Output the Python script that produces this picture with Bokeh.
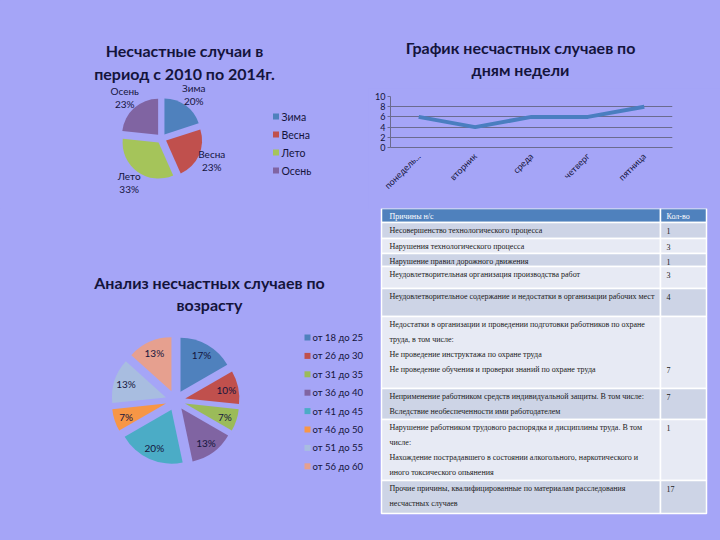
import math
from bokeh.plotting import figure
from bokeh.layouts import row, column
from bokeh.models import Range1d, FactorRange
from bokeh.core.properties import value
from bokeh.embed import file_html
from bokeh.resources import INLINE

# ---------------- data ----------------
season_labels = ["Зима", "Весна", "Лето", "Осень"]
season_counts = [6, 7, 10, 7]

day_labels = ["понедель...", "вторник", "среда", "четверг", "пятница"]
day_counts = [6, 4, 6, 6, 8]
day_ticks = [0, 2, 4, 6, 8, 10]

age_labels = ["от 18 до 25", "от 26 до 30", "от 31 до 35", "от 36 до 40",
              "от 41 до 45", "от 46 до 50", "от 51 до 55", "от 56 до 60"]
age_counts = [5, 3, 2, 4, 6, 2, 4, 4]

table_header = ["Причины н/с", "Кол-во"]
cause_texts = [
    ["Несовершенство технологического процесса"],
    ["Нарушения технологического процесса"],
    ["Нарушение правил дорожного движения"],
    ["Неудовлетворительная организация производства работ"],
    ["Неудовлетворительное содержание и недостатки в организации рабочих мест"],
    ["Недостатки в организации и проведении подготовки работников по охране",
     "труда, в том числе:",
     "Не проведение инструктажа по охране труда",
     "Не проведение обучения и проверки знаний по охране труда"],
    ["Неприменение работником средств индивидуальной защиты. В том числе:",
     "Вследствие необеспеченности ими работодателем"],
    ["Нарушение работником трудового распорядка и дисциплины труда. В том",
     "числе:",
     "Нахождение пострадавшего в состоянии алкогольного, наркотического и",
     "иного токсического опьянения"],
    ["Прочие причины, квалифицированные по материалам расследования",
     "несчастных случаев"],
]
cause_counts = [1, 3, 1, 3, 4, 7, 7, 1, 17]

season_title = ["Несчастные случаи в", "период с 2010 по 2014г."]
line_title = ["График несчастных случаев по", "дням недели"]
age_title = ["Анализ несчастных случаев по", "возрасту"]

# ---------------- style ----------------
BG = "#a5a5f7"
INK = "#14143c"
GRID = "#6b6b8f"
season_colors = ["#4f81bd", "#c0504d", "#a5c45a", "#8064a2"]
age_colors = ["#4f81bd", "#c0504d", "#9bbb59", "#8064a2",
              "#4bacc6", "#f79646", "#a8bde0", "#e6a08f"]
SANS = value("Lato")
SERIF = value("Liberation Serif")


def canvas(x0, x1, y0, y1):
    p = figure(width=int(x1 - x0), height=int(y1 - y0),
               x_range=Range1d(x0, x1), y_range=Range1d(-y1, -y0),
               x_axis_type=None, y_axis_type=None,
               output_backend="svg", toolbar_location=None, min_border=0,
               background_fill_color=BG, border_fill_color=BG,
               outline_line_color=None)
    return p


def title(p, lines, cx, ys):
    for t, y in zip(lines, ys):
        p.text(x=[cx], y=[-y], text=[t], text_font=SANS, text_font_style="bold",
               text_font_size="16px", text_color=INK,
               text_align="center", text_baseline="middle")


def pie(p, counts, colors, cx, cy, r, e):
    total = sum(counts)
    acc = 0
    mids = []
    for c, col in zip(counts, colors):
        th0 = 2 * math.pi * acc / total
        th1 = 2 * math.pi * (acc + c) / total
        mid = (th0 + th1) / 2
        mids.append(mid)
        ox = cx + e * math.sin(mid)
        oy = -cy + e * math.cos(mid)
        p.wedge(x=[ox], y=[oy], radius=r,
                start_angle=math.pi / 2 - th1, end_angle=math.pi / 2 - th0,
                fill_color=col, line_color=None)
        acc += c
    return mids


def pct(counts):
    t = sum(counts)
    return ["%d%%" % round(100 * c / t) for c in counts]


# ---------------- seasons pie ----------------
ps = canvas(0, 368, 0, 208)
title(ps, season_title, 184, [50, 73])
scx, scy = 161, 138
mids = pie(ps, season_counts, season_colors, scx, scy, 36, 5)
for lab, pc, m in zip(season_labels, pct(season_counts), mids):
    lx = scx + 55 * math.sin(m)
    ly = -scy + 55 * math.cos(m)
    ps.text(x=[lx], y=[ly + 6.5], text=[lab], text_font=SANS, text_font_size="10px",
            text_color=INK, text_align="center", text_baseline="middle")
    ps.text(x=[lx], y=[ly - 6.5], text=[pc], text_font=SANS, text_font_size="10px",
            text_color=INK, text_align="center", text_baseline="middle")
for i, (lab, col) in enumerate(zip(season_labels, season_colors)):
    y = -(116 + 18 * i)
    ps.scatter(x=[275.5], y=[y], marker="square", size=6, fill_color=col, line_color=None)
    ps.text(x=[281], y=[y], text=[lab], text_font=SANS, text_font_size="10.5px",
            text_color=INK, text_align="left", text_baseline="middle")

# ---------------- age pie ----------------
pa = canvas(0, 368, 208, 540)
title(pa, age_title, 209, [282, 304])
acx, acy = 175, 400
mids = pie(pa, age_counts, age_colors, acx, acy, 54, 10)
for pc, m in zip(pct(age_counts), mids):
    lx = acx + 52 * math.sin(m)
    ly = -acy + 52 * math.cos(m)
    pa.text(x=[lx], y=[ly], text=[pc], text_font=SANS, text_font_size="10px",
            text_color=INK, text_align="center", text_baseline="middle")
for i, (lab, col) in enumerate(zip(age_labels, age_colors)):
    y = -(337 + 18.4 * i)
    pa.scatter(x=[307], y=[y], marker="square", size=6, fill_color=col, line_color=None)
    pa.text(x=[312], y=[y], text=[lab], text_font=SANS, text_font_size="9.5px",
            text_color=INK, text_align="left", text_baseline="middle")

# ---------------- line chart ----------------
pt = canvas(368, 720, 0, 88)
title(pt, line_title, 520, [47, 69])

pl = figure(width=352, height=120, x_range=FactorRange(*day_labels), y_range=Range1d(0, 10),
            output_backend="svg", toolbar_location=None,
            min_border_left=22, min_border_right=48, min_border_top=8, min_border_bottom=61,
            background_fill_color=BG, border_fill_color=BG, outline_line_color=None)
pl.line(x=day_labels, y=day_counts, line_width=4, line_color="#4a7ec0", line_join="round")
pl.xgrid.grid_line_color = None
pl.ygrid.ticker = day_ticks
pl.ygrid.grid_line_color = GRID
pl.yaxis.ticker = day_ticks
for ax in (pl.xaxis, pl.yaxis):
    ax.axis_line_color = GRID
    ax.major_tick_line_color = GRID
    ax.minor_tick_line_color = None
    ax.major_tick_in = 0
    ax.major_tick_out = 3
    ax.major_label_text_font = "Lato"
    ax.major_label_text_font_size = "9px"
    ax.major_label_text_color = INK
pl.xaxis.major_tick_line_color = None
pl.xaxis.major_label_orientation = math.pi / 4
pl.xaxis.major_label_standoff = 4
pl.yaxis.major_label_standoff = 2

# ---------------- table ----------------
ptab = canvas(368, 720, 208, 540)
row_edges = [208, 222, 238, 253, 266, 288, 316, 388, 419, 480, 513]
count_line = [0, 0, 0, 0, 0, 3, 0, 0, 0]
XL, XM, XR = 381, 660, 706
HEAD = "#4f81bd"
ROW_A = "#cdd4e6"
ROW_B = "#e7eaf4"

fills = [HEAD] + [ROW_A if i % 2 == 0 else ROW_B for i in range(len(cause_counts))]
tops = [-y for y in row_edges[:-1]]
bots = [-y for y in row_edges[1:]]
ptab.quad(left=[XL] * len(fills), right=[XM] * len(fills), top=tops, bottom=bots,
          fill_color=fills, line_color="white", line_width=1.5)
ptab.quad(left=[XM] * len(fills), right=[XR] * len(fills), top=tops, bottom=bots,
          fill_color=fills, line_color="white", line_width=1.5)

ptab.text(x=[389], y=[-215.5], text=[table_header[0]], text_font=SERIF, text_font_size="8px",
          text_color="white", text_align="left", text_baseline="middle")
ptab.text(x=[666], y=[-215.5], text=[table_header[1]], text_font=SERIF, text_font_size="8px",
          text_color="white", text_align="left", text_baseline="middle")

tx, ty, tt = [], [], []
nx, ny, nt = [], [], []
for i, (lines, n) in enumerate(zip(cause_texts, cause_counts)):
    top = row_edges[i + 1]
    for j, ln in enumerate(lines):
        tx.append(389)
        ty.append(-(top + 8 + 15 * j))
        tt.append(ln)
    nx.append(666)
    ny.append(-(top + 8 + 15 * count_line[i]))
    nt.append(str(n))
ptab.text(x=tx, y=ty, text=tt, text_font=SERIF, text_font_size="8px",
          text_color="#1a1a1a", text_align="left", text_baseline="middle")
ptab.text(x=nx, y=ny, text=nt, text_font=SERIF, text_font_size="8px",
          text_color="#1a1a1a", text_align="left", text_baseline="middle")

left_col = column(row(ps), row(pa), styles={"background-color": BG})
right_col = column(row(pt), row(pl), row(ptab), styles={"background-color": BG})
layout = row(left_col, right_col, styles={"background-color": BG})
open("out.html", "w").write(file_html(layout, INLINE))
